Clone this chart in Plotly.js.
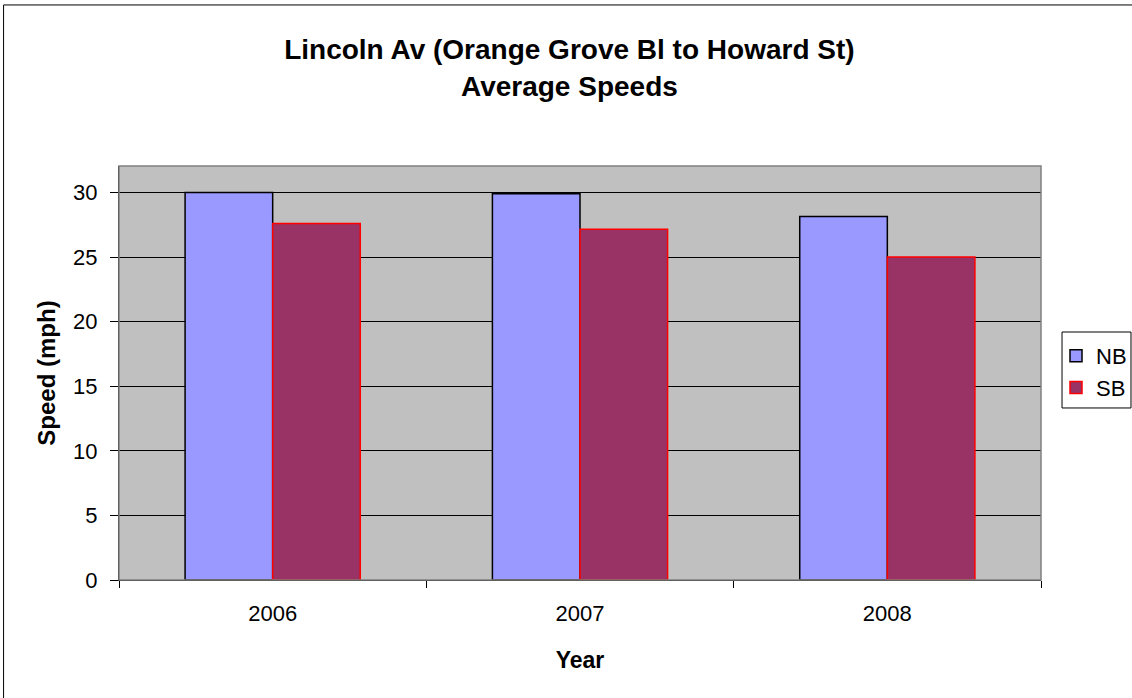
<!DOCTYPE html>
<html><head><meta charset="utf-8">
<script src="https://cdn.plot.ly/plotly-3.0.1.min.js"></script>
<style>html,body{margin:0;padding:0;background:#fff;}#c{width:1132px;height:698px;}</style>
</head><body><div id="c"></div>
<script>
var years = ['2006','2007','2008'];
var nb = [30.0, 29.9, 28.15];
var sb = [27.6, 27.15, 25.0];
var yTicks = [0,5,10,15,20,25,30];

var font = 'Liberation Sans, Arial, sans-serif';
var data = [
  {type:'bar', name:'NB', x:years, y:nb, legendgroup:'a', marker:{color:'#9999FF', line:{color:'#000000', width:1.5}}},
  {type:'bar', name:'SB', x:years, y:sb, legendgroup:'b', marker:{color:'#993366', line:{color:'#FF0000', width:1.5}}}
];
var layout = {
  width:1132, height:698,
  margin:{l:118.5, r:91, t:166, b:118, pad:0},
  paper_bgcolor:'#ffffff', plot_bgcolor:'#C0C0C0',
  barmode:'group', bargap:0.43, bargroupgap:0,
  font:{family:font, color:'#000', size:22},
  title:{text:'<b>Lincoln Av (Orange Grove Bl to Howard St)<br>Average Speeds</b>', x:0.503, xanchor:'center', y:0.915, yanchor:'middle', font:{size:28, family:font}},
  xaxis:{type:'category', tickson:'boundaries', ticks:'outside', ticklen:7, tickcolor:'#000', showline:true, linecolor:'#000', linewidth:1,
    tickfont:{size:22}, ticklabelstandoff:14, title:{text:'<b>Year</b>', font:{size:23}, standoff:26}, showgrid:false},
  yaxis:{range:[0,32.05], tickvals:yTicks, ticks:'outside', ticklen:8, tickcolor:'#000', showline:true, linecolor:'#000', linewidth:1,
    showgrid:true, gridcolor:'#000', gridwidth:1, zeroline:false, tickfont:{size:22}, ticklabelstandoff:8,
    title:{text:'<b>Speed (mph)</b>', font:{size:24}, standoff:10}},
  showlegend:true,
  legend:{xref:'container', yref:'container', x:1056/1132, xanchor:'left', y:0.467, yanchor:'middle', borderwidth:0, bgcolor:'rgba(0,0,0,0)',
    font:{size:22}, itemwidth:30, traceorder:'normal', tracegroupgap:22},
  shapes:[
    {type:'rect', xref:'paper', yref:'paper', x0:0, x1:1, y0:0, y1:1, line:{color:'#808080', width:1.5}, fillcolor:'rgba(0,0,0,0)', layer:'above'},
    {type:'rect', xref:'paper', yref:'paper', x0:-0.1252, x1:1.2, y0:-0.5, y1:1.389, line:{color:'#000', width:1}, fillcolor:'rgba(0,0,0,0)'},
    {type:'rect', xref:'paper', yref:'paper', x0:1.0228, x1:1.0976, y0:0.4155, y1:0.599, line:{color:'#000', width:1}, fillcolor:'#ffffff'}
  ]
};
Plotly.newPlot('c', data, layout, {displayModeBar:false});
</script></body></html>
